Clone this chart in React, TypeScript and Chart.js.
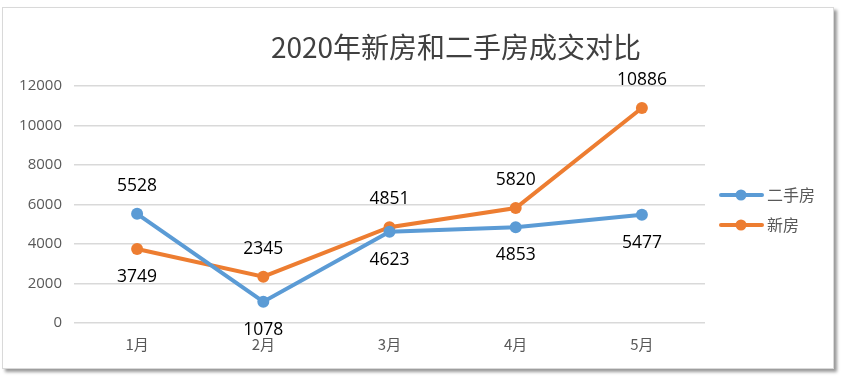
import React, { useEffect, useRef } from "react";
import { Chart, registerables } from "chart.js";

Chart.register(...registerables);

const categories = ["1月", "2月", "3月", "4月", "5月"];
const secondHand = [5528, 1078, 4623, 4853, 5477];
const newHouse = [3749, 2345, 4851, 5820, 10886];
const secondHandLabelPos = ["above", "below", "below", "below", "below"];
const newHouseLabelPos = ["below", "above", "above", "above", "above"];
const yTicks = [0, 2000, 4000, 6000, 8000, 10000, 12000];
const titleText = "2020年新房和二手房成交对比";
const seriesNames = ["二手房", "新房"];

const BLUE = "#5B9BD5";
const ORANGE = "#ED7D31";

export default function App() {
  const ref = useRef<HTMLCanvasElement | null>(null);

  useEffect(() => {
    const canvas = ref.current;
    if (!canvas) return;

    const labelPlugin = {
      id: "customDraw",
      afterDraw(chart: any) {
        const ctx = chart.ctx;
        const area = chart.chartArea;
        ctx.save();
        // title
        ctx.fillStyle = "#404040";
        ctx.font = '28px "Noto Sans CJK SC", "Open Sans", sans-serif';
        ctx.textAlign = "center";
        ctx.textBaseline = "middle";
        ctx.fillText(titleText, 456, 47);

        // data labels
        const posArr = [secondHandLabelPos, newHouseLabelPos];
        ctx.font = '17.5px "Open Sans", sans-serif';
        ctx.fillStyle = "#000000";
        chart.data.datasets.forEach((ds: any, di: number) => {
          const meta = chart.getDatasetMeta(di);
          meta.data.forEach((pt: any, i: number) => {
            const dy = posArr[di][i] === "above" ? -28 : 28;
            ctx.fillText(String(ds.data[i]), pt.x, pt.y + dy);
          });
        });

        // legend
        const colors = [BLUE, ORANGE];
        const ys = [195, 225];
        colors.forEach((c, i) => {
          ctx.strokeStyle = c;
          ctx.lineWidth = 4;
          ctx.lineCap = "round";
          ctx.beginPath();
          ctx.moveTo(area.right + 16, ys[i]);
          ctx.lineTo(area.right + 57, ys[i]);
          ctx.stroke();
          ctx.fillStyle = c;
          ctx.beginPath();
          ctx.arc(area.right + 36, ys[i], 5.5, 0, Math.PI * 2);
          ctx.fill();
          ctx.fillStyle = "#595959";
          ctx.font = '16px "Noto Sans CJK SC", sans-serif';
          ctx.textAlign = "left";
          ctx.fillText(seriesNames[i], area.right + 62, ys[i]);
          ctx.textAlign = "center";
        });
        ctx.restore();
      },
    };

    const chart = new Chart(canvas, {
      type: "line",
      data: {
        labels: categories,
        datasets: [
          {
            label: seriesNames[0],
            data: secondHand,
            borderColor: BLUE,
            backgroundColor: BLUE,
            borderWidth: 4,
            pointRadius: 6,
            pointBackgroundColor: BLUE,
            pointBorderWidth: 0,
            tension: 0,
          },
          {
            label: seriesNames[1],
            data: newHouse,
            borderColor: ORANGE,
            backgroundColor: ORANGE,
            borderWidth: 4,
            pointRadius: 6,
            pointBackgroundColor: ORANGE,
            pointBorderWidth: 0,
            tension: 0,
          },
        ],
      },
      options: {
        responsive: false,
        animation: false,
        layout: { padding: { left: 14, right: 140, top: 86, bottom: 0 } },
        plugins: {
          legend: { display: false },
          title: { display: false },
          tooltip: { enabled: false },
        },
        scales: {
          x: {
            offset: true,
            grid: { display: false, drawTicks: false },
            border: { display: false },
            ticks: {
              color: "#595959",
              font: { family: '"Noto Sans CJK SC", "Open Sans", sans-serif', size: 15 },
              padding: 12,
            },
            afterFit(scale: any) {
              scale.height = 55;
            },
          },
          y: {
            min: 0,
            max: 12000,
            grid: { color: "#d9d9d9", lineWidth: 1.5, drawTicks: false },
            border: { display: false },
            afterBuildTicks(scale: any) {
              scale.ticks = yTicks.map((v) => ({ value: v }));
            },
            ticks: {
              color: "#595959",
              font: { family: '"Open Sans", sans-serif', size: 15 },
              padding: 12,
              callback: (v: any) => String(v),
            },
            afterFit(scale: any) {
              scale.width = 60;
            },
          },
        },
      },
      plugins: [labelPlugin],
    });

    return () => chart.destroy();
  }, []);

  return (
    <div style={{ position: "absolute", left: 0, top: 0, width: 845, height: 378, background: "#fff" }}>
      <div
        style={{
          position: "absolute",
          left: 2,
          top: 7,
          width: 830,
          height: 360,
          border: "1px solid #d9d9d9",
          boxShadow: "3px 3px 3px #9a9a9a",
          background: "#fff",
        }}
      />
      <canvas ref={ref} width={845} height={378} style={{ position: "absolute", left: 0, top: 0 }} />
    </div>
  );
}
